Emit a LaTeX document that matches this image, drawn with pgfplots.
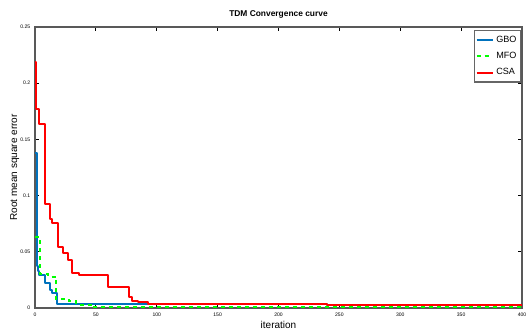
\documentclass[border=0pt]{standalone}
\usepackage{fontspec}
\setmainfont{Liberation Sans}
\usepackage{pgfplots}
\pgfplotsset{compat=1.18}
\definecolor{mblue}{rgb}{0,0.447,0.741}
\definecolor{mred}{rgb}{1,0,0}
\definecolor{mgreen}{rgb}{0,1,0}
\begin{document}
\begin{tikzpicture}
\useasboundingbox (-26.25pt,-20.25pt) rectangle (369pt,231pt);
\begin{axis}[
  scale only axis,
  width=365.25pt, height=210.75pt,
  xmin=0, xmax=400, ymin=0, ymax=0.25,
  xtick={0,50,...,400}, ytick={0,0.05,0.1,0.15,0.2,0.25},
  yticklabels={0,0.05,0.1,0.15,0.2,0.25},
  tick align=inside, tick pos=both,
  major tick length=3pt,
  axis line style={draw=gray!70!black, line width=1.2pt},
  tick style={draw=black, line width=0.6pt},
  tick label style={font=\fontsize{3.8}{4}\selectfont},
  /pgf/number format/assume math mode=true,
  scaled y ticks=false,
  title={\textbf{TDM Convergence curve}},
  title style={font=\fontsize{6.3}{7}\selectfont, yshift=-3pt},
  xlabel={iteration},
  xlabel style={font=\fontsize{7.5}{8}\selectfont, yshift=3pt},
  ylabel={Root mean square error},
  ylabel style={font=\fontsize{7.5}{8}\selectfont, yshift=-6pt},
  legend style={at={(0.998,0.99)}, anchor=north east, font=\fontsize{6.8}{7}\selectfont,
    draw=gray!80!black, line width=0.8pt, inner xsep=1pt, inner ysep=2pt, row sep=2pt},
  legend cell align=left,
  legend image code/.code={\draw[#1, line width=1.5pt] (0cm,0cm) -- (0.42cm,0cm);},
]
\addplot[color=mblue, line width=1.5pt, line join=round] coordinates {
(0,0.138)(1.5,0.138)(1.5,0.037)(2.5,0.037)(2.5,0.033)(3,0.033)(3,0.029)(8,0.029)(8,0.022)(12,0.022)(12,0.016)(14,0.016)(14,0.013)(18,0.013)(18,0.004)(100,0.004)(100,0.0035)(240,0.0035)(240,0.0025)(400,0.0025)};
\addlegendentry{GBO}
\addplot[color=mgreen, dashed, line width=1.5pt] coordinates {
(0,0.063)(4,0.063)(4,0.030)(11,0.030)(11,0.028)(17,0.028)(17,0.008)(28,0.008)(28,0.006)(34,0.006)(34,0.003)(47,0.003)(47,0.001)(400,0.001)};
\addlegendentry{MFO}
\addplot[color=mred, line width=1.5pt, line join=round] coordinates {
(0,0.219)(1,0.219)(1,0.177)(3,0.177)(3,0.164)(8,0.164)(8,0.0925)(12,0.0925)(12,0.079)(14,0.079)(14,0.076)(19,0.076)(19,0.054)(23,0.054)(23,0.049)(27,0.049)(27,0.043)(30,0.043)(30,0.031)(36,0.031)(36,0.029)(60,0.029)(60,0.019)(77,0.019)(77,0.010)(80,0.010)(80,0.006)(85,0.006)(85,0.005)(93,0.005)(93,0.004)(240,0.004)(240,0.003)(400,0.003)};
\addlegendentry{CSA}
\end{axis}
\end{tikzpicture}
\end{document}
